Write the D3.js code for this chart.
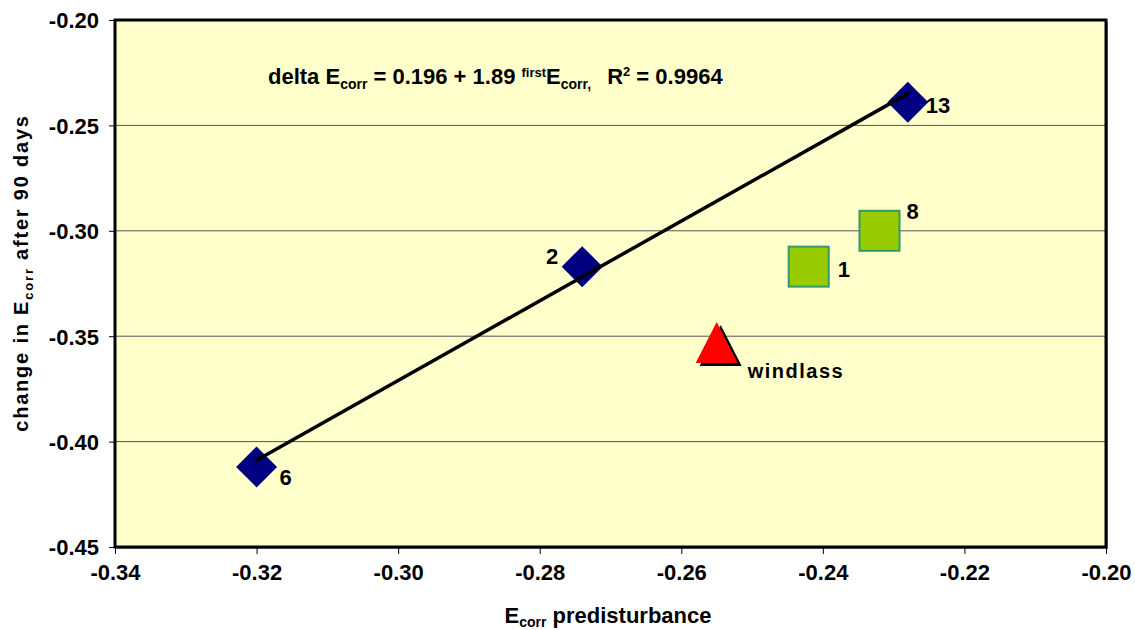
<!DOCTYPE html>
<html>
<head>
<meta charset="utf-8">
<script src="https://cdn.jsdelivr.net/npm/d3@7"></script>
<style>
  html, body { margin: 0; padding: 0; background: #ffffff; }
  svg { display: block; font-family: "Liberation Sans", Arial, sans-serif; font-weight: bold; }
</style>
</head>
<body>
<svg id="chart" width="1135" height="630"></svg>
<script>
// Corrosion potential: predisturbance value vs. change after 90 days
const diamondX = [-0.320, -0.274, -0.228];
const diamondY = [-0.412, -0.317, -0.239];
const diamondLabels = ["6", "2", "13"];

const squareX = [-0.242, -0.232];
const squareY = [-0.317, -0.300];
const squareLabels = ["1", "8"];

const triangleX = [-0.255];
const triangleY = [-0.353];
const triangleLabels = ["windlass"];

// Linear fit through the diamond series
const fitIntercept = 0.196;
const fitSlope = 1.89;
const fitR2 = 0.9964;

const xTicks = [-0.34, -0.32, -0.30, -0.28, -0.26, -0.24, -0.22, -0.20];
const yTicks = [-0.45, -0.40, -0.35, -0.30, -0.25, -0.20];

const svg = d3.select("#chart");
const plot = { left: 115, right: 1106, top: 20, bottom: 547 };

const x = d3.scaleLinear().domain([-0.34, -0.20]).range([plot.left, plot.right]);
const y = d3.scaleLinear().domain([-0.45, -0.20]).range([plot.bottom, plot.top]);

// Tick labels use a plain hyphen for the sign
const fmt = d => d3.format(".2f")(d).replace("\u2212", "-");

// Plot area with a soft drop shadow and a heavy black frame
svg.append("rect")
  .attr("x", plot.left + 2).attr("y", plot.top + 2)
  .attr("width", plot.right - plot.left).attr("height", plot.bottom - plot.top)
  .attr("fill", "#8a8a8a");
svg.append("rect")
  .attr("x", plot.left).attr("y", plot.top)
  .attr("width", plot.right - plot.left).attr("height", plot.bottom - plot.top)
  .attr("fill", "#ffffcc");

// Horizontal gridlines
svg.append("g")
  .selectAll("line")
  .data(yTicks.slice(1, -1))
  .join("line")
  .attr("x1", plot.left).attr("x2", plot.right)
  .attr("y1", d => y(d)).attr("y2", d => y(d))
  .attr("stroke", "#555555").attr("stroke-width", 1);

svg.append("rect")
  .attr("x", plot.left).attr("y", plot.top)
  .attr("width", plot.right - plot.left).attr("height", plot.bottom - plot.top)
  .attr("fill", "none").attr("stroke", "#000").attr("stroke-width", 3);

// Axes
const xAxis = svg.append("g")
  .attr("transform", `translate(0,${plot.bottom})`)
  .call(d3.axisBottom(x).tickValues(xTicks).tickFormat(fmt).tickSize(7).tickSizeOuter(0).tickPadding(14));
const yAxis = svg.append("g")
  .attr("transform", `translate(${plot.left},0)`)
  .call(d3.axisLeft(y).tickValues(yTicks).tickFormat(fmt).tickSize(6).tickSizeOuter(0).tickPadding(10));

[xAxis, yAxis].forEach(g => {
  g.select(".domain").remove();
  g.selectAll(".tick line").attr("stroke", "#000").attr("stroke-width", 1);
  g.selectAll(".tick text")
    .attr("fill", "#000")
    .style("font-family", "'Liberation Sans', Arial, sans-serif")
    .style("font-weight", "bold")
    .style("font-size", "22px");
});
yAxis.selectAll(".tick text").attr("dy", "0.36em");
xAxis.selectAll(".tick text").attr("dy", "0.55em");

// Trendline across the diamond series
const [fx0, fx1] = d3.extent(diamondX);

// Diamonds
const diamondPath = d3.symbol().type(d3.symbolSquare).size(29 * 29)();
const diamonds = d3.zip(diamondX, diamondY, diamondLabels);
svg.append("g").selectAll("path")
  .data(diamonds)
  .join("path")
  .attr("d", diamondPath)
  .attr("transform", d => `translate(${x(d[0])},${y(d[1])}) rotate(45)`)
  .attr("fill", "#000080");

// Fit line drawn over the diamonds
svg.append("line")
  .attr("x1", x(fx0)).attr("y1", y(fitIntercept + fitSlope * fx0))
  .attr("x2", x(fx1)).attr("y2", y(fitIntercept + fitSlope * fx1))
  .attr("stroke", "#000").attr("stroke-width", 3.5).attr("stroke-linecap", "round");

// Squares
const squares = d3.zip(squareX, squareY, squareLabels);
const sq = 40;
svg.append("g").selectAll("rect")
  .data(squares)
  .join("rect")
  .attr("x", d => x(d[0]) - sq / 2).attr("y", d => y(d[1]) - sq / 2)
  .attr("width", sq).attr("height", sq)
  .attr("fill", "#99cc00").attr("stroke", "#339966").attr("stroke-width", 2);

// Triangle with its black drop shadow
const triangles = d3.zip(triangleX, triangleY, triangleLabels);
const triPath = "M0,-20.5L21,20.5L-21,20.5Z";
const tri = svg.append("g");
tri.selectAll("path.shadow")
  .data(triangles)
  .join("path")
  .attr("class", "shadow")
  .attr("d", triPath)
  .attr("transform", d => `translate(${x(d[0]) + 4},${y(d[1]) + 3})`)
  .attr("fill", "#000");
tri.selectAll("path.mark")
  .data(triangles)
  .join("path")
  .attr("class", "mark")
  .attr("d", triPath)
  .attr("transform", d => `translate(${x(d[0])},${y(d[1])})`)
  .attr("fill", "#ff0000");

// Point labels
const labelStyle = sel => sel.attr("fill", "#000").style("font-size", "22px");
const diamondOffsets = [[23, 18, "start"], [-24, -3, "end"], [18, 11, "start"]];
svg.append("g").selectAll("text")
  .data(diamonds)
  .join("text")
  .attr("x", (d, i) => x(d[0]) + diamondOffsets[i][0])
  .attr("y", (d, i) => y(d[1]) + diamondOffsets[i][1])
  .attr("text-anchor", (d, i) => diamondOffsets[i][2])
  .text(d => d[2])
  .call(labelStyle);

const squareOffsets = [[29, 10], [27, -12]];
svg.append("g").selectAll("text")
  .data(squares)
  .join("text")
  .attr("x", (d, i) => x(d[0]) + squareOffsets[i][0])
  .attr("y", (d, i) => y(d[1]) + squareOffsets[i][1])
  .text(d => d[2])
  .call(labelStyle);

svg.append("g").selectAll("text")
  .data(triangles)
  .join("text")
  .attr("x", d => x(d[0]) + 31)
  .attr("y", d => y(d[1]) + 35)
  .style("letter-spacing", "1.5px")
  .text(d => d[2])
  .call(labelStyle)
  .style("font-size", "20px");

// Fit equation
const eq = svg.append("text")
  .attr("x", 268).attr("y", 84)
  .attr("fill", "#000")
  .style("font-size", "22px");
eq.append("tspan").text("delta E");
eq.append("tspan").text("corr").style("font-size", "14px").attr("dy", 5);
eq.append("tspan").text(` = ${fitIntercept} + ${fitSlope} `).attr("dy", -5);
eq.append("tspan").text("first").style("font-size", "13px").attr("dy", -7);
eq.append("tspan").text("E").attr("dy", 7);
eq.append("tspan").text("corr,").style("font-size", "14px").attr("dy", 5);
eq.append("tspan").text("R").attr("dy", -5).attr("dx", 16);
eq.append("tspan").text("2").style("font-size", "13px").attr("dy", -8);
eq.append("tspan").text(` = ${fitR2}`).attr("dy", 8);

// Axis titles
const xt = svg.append("text")
  .attr("x", 608).attr("y", 623)
  .attr("text-anchor", "middle")
  .attr("fill", "#000")
  .style("font-size", "22px");
xt.append("tspan").text("E");
xt.append("tspan").text("corr").style("font-size", "14px").attr("dy", 4);
xt.append("tspan").text(" predisturbance").attr("dy", -4);

const yt = svg.append("text")
  .attr("transform", "translate(28,273) rotate(-90)")
  .attr("text-anchor", "middle")
  .attr("fill", "#000")
  .style("font-size", "20px")
  .style("letter-spacing", "1.8px");
yt.append("tspan").text("change in E");
yt.append("tspan").text("corr").style("font-size", "13px").attr("dy", 5);
yt.append("tspan").text(" after 90 days").attr("dy", -5);
</script>
</body>
</html>
